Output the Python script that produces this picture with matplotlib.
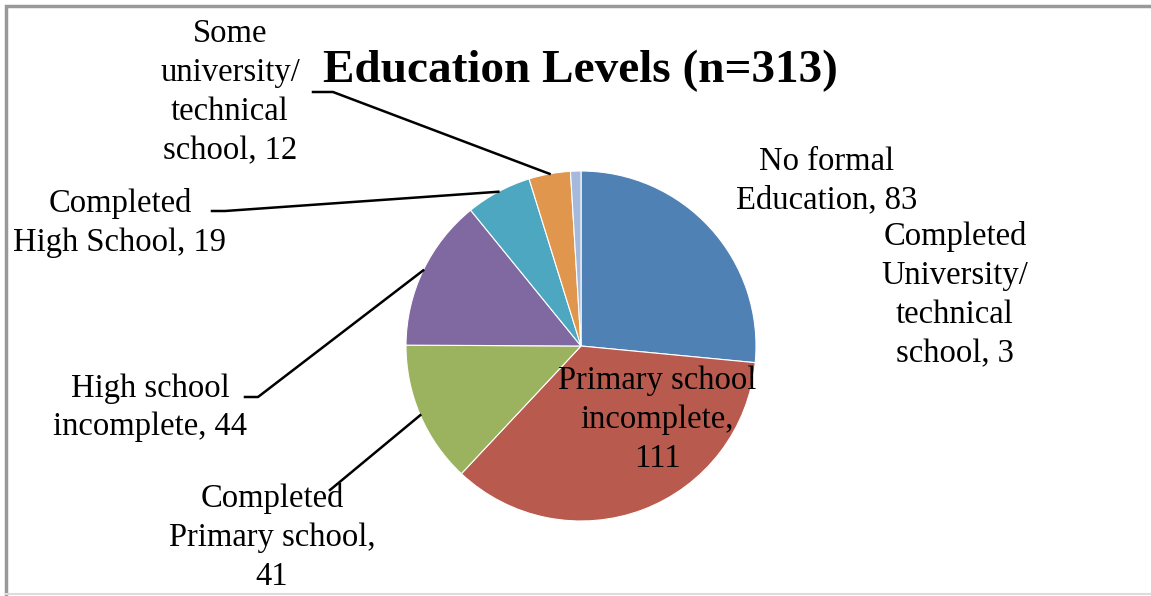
import matplotlib.pyplot as plt
import numpy as np

plt.rcParams['font.family'] = ['Liberation Serif', 'DejaVu Serif']

# education level counts, clockwise from 12 o'clock
levels = ['No formal\nEducation', 'Primary school\nincomplete', 'Completed\nPrimary school',
          'High school\nincomplete', 'Completed\nHigh School', 'Some\nuniversity/\ntechnical\nschool',
          'Completed\nUniversity/\ntechnical\nschool']
counts = [83, 111, 41, 44, 19, 12, 3]
colors = ['#4f81b5', '#b95a4f', '#9bb35e', '#8068a0', '#4ea7c0', '#e0964c', '#a5b9dd']

W, H = 1151, 596
fig = plt.figure(figsize=(W / 100, H / 100), dpi=100)
ax = fig.add_axes([0, 0, 1, 1])

def py(y):  # pixel row -> data y
    return H - y

cx, cy, r = 581, py(346), 175
wedges, _ = ax.pie(counts, colors=colors, startangle=90, counterclock=False,
                   center=(cx, cy), radius=r, frame=True,
                   wedgeprops=dict(edgecolor='white', linewidth=0.8))
ax.set_xlim(0, W)
ax.set_ylim(0, H)
ax.set_aspect('equal')
ax.axis('off')

# label centre x, first-line centre y, leader line start points
label_pos = [
    (827, 160, None),
    (657, 380, None),
    (272, 497, [(330, 490)]),
    (150, 387, [(245, 397), (258, 397)]),
    (120, 202, [(212, 211), (225, 211)]),
    (230, 33, [(313, 92), (333, 92)]),
    (955, 235, None),
]

for w, name, n, (lx, ly, lead) in zip(wedges, levels, counts, label_pos):
    if name.startswith('Primary school') or name.startswith('Completed\nPrimary'):
        txt = f'{name},\n{n}'
    else:
        txt = f'{name}, {n}'
    ax.text(lx, py(ly) + 14, txt, ha='center', va='top', fontsize=23.5,
            linespacing=1.36, color='black', zorder=3)
    if lead is not None:
        mid = np.deg2rad((w.theta1 + w.theta2) / 2)
        ex, ey = cx + r * np.cos(mid), cy + r * np.sin(mid)
        xs = [p[0] for p in lead] + [ex]
        ys = [py(p[1]) for p in lead] + [ey]
        ax.plot(xs, ys, color='black', lw=1.8, zorder=4)

ax.text(580, py(71), 'Education Levels (n=313)', ha='center', va='center',
        fontsize=34, fontweight='bold')

# frame round the chart area
ax.plot([6, 6, W], [py(594), py(6), py(6)], color='#999999', lw=2.5,
        solid_joinstyle='miter', clip_on=False)
ax.plot([6, W], [py(594), py(594)], color='#dddddd', lw=1.5, clip_on=False)

fig.savefig('out.png', dpi=100)
